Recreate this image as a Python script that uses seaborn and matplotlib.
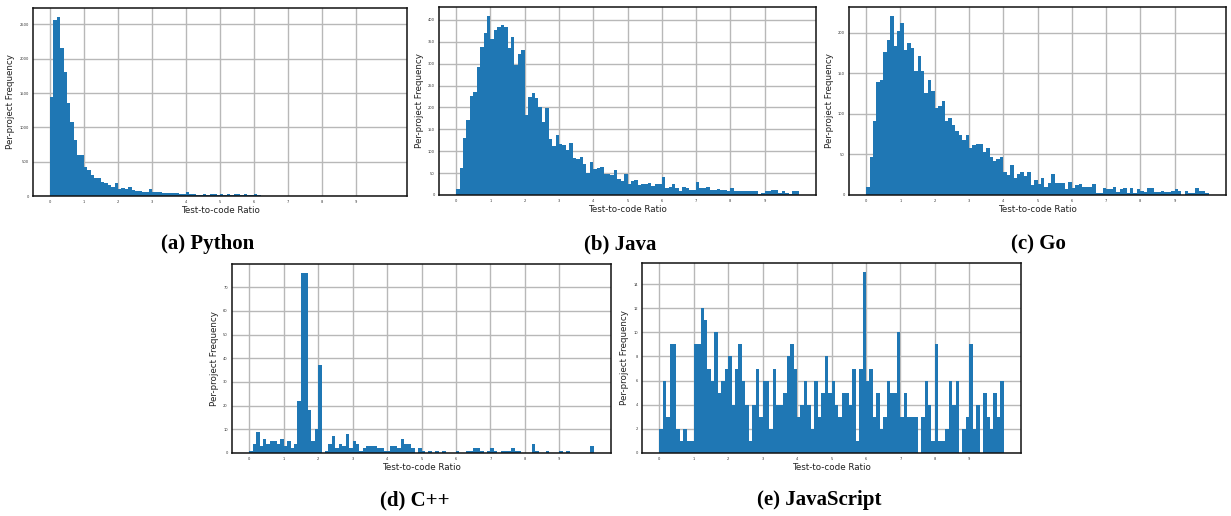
import numpy as np
import pandas as pd
import matplotlib
matplotlib.use("Agg")
import matplotlib.pyplot as plt
import seaborn as sns

# Histogram bins: 100 bins of width 0.1 over the test-to-code ratio range
bin_edges = np.linspace(0, 10, 101)
bin_centers = (bin_edges[:-1] + bin_edges[1:]) / 2

# Per-bin project counts
python_counts = [
    1440, 2570, 2610, 2160, 1810, 1355, 1075, 815, 595, 595,
    420, 375, 300, 258, 258, 210, 185, 165, 125, 185,
    100, 110, 97, 125, 90, 80, 80, 65, 55, 97,
    55, 55, 55, 42, 50, 40, 40, 38, 32, 30,
    55, 28, 28, 18, 15, 22, 15, 22, 22, 15,
    22, 15, 22, 15, 22, 22, 15, 22, 10, 10,
    22, 18, 6, 5, 5, 4, 4, 3, 3, 3,
    3, 2, 2, 2, 2, 2, 2, 1, 1, 1,
    1, 1, 1, 1, 1, 1, 1, 1, 1, 1,
    1, 1, 1, 1, 1, 1, 1, 1, 1, 1,
]
java_counts = [
    14, 62, 131, 172, 227, 236, 293, 338, 370, 409,
    357, 377, 384, 389, 384, 336, 361, 297, 322, 332,
    183, 224, 233, 222, 202, 167, 199, 128, 113, 138,
    117, 115, 103, 119, 85, 83, 87, 71, 51, 76,
    60, 62, 65, 49, 49, 46, 56, 37, 33, 49,
    26, 33, 35, 22, 24, 24, 28, 21, 24, 24,
    40, 17, 19, 24, 17, 10, 19, 17, 12, 12,
    30, 17, 17, 19, 12, 12, 14, 12, 12, 8,
    17, 8, 10, 10, 8, 8, 8, 10, 3, 5,
    10, 8, 12, 12, 5, 10, 5, 3, 8, 10,
]
go_counts = [
    10, 47, 91, 140, 142, 176, 191, 221, 184, 202,
    212, 179, 188, 181, 153, 172, 153, 126, 142, 128,
    107, 110, 116, 91, 95, 87, 79, 74, 68, 74,
    58, 62, 63, 63, 53, 58, 47, 42, 44, 47,
    29, 25, 37, 21, 26, 29, 23, 29, 12, 19,
    14, 21, 10, 15, 26, 15, 15, 15, 7, 16,
    9, 12, 13, 10, 10, 10, 13, 3, 3, 9,
    7, 8, 10, 4, 7, 9, 2, 9, 3, 7,
    5, 4, 9, 9, 4, 4, 5, 4, 4, 5,
    8, 5, 0, 5, 3, 3, 9, 5, 5, 3,
]
cpp_counts = [
    1, 4, 9, 3, 6, 4, 5, 5, 4, 6,
    3, 5, 2, 4, 22, 76, 76, 18, 5, 10,
    37, 0, 1, 4, 7, 2, 4, 3, 8, 2,
    5, 4, 1, 2, 3, 3, 3, 2, 2, 1,
    1, 3, 3, 2, 6, 4, 4, 2, 0, 2,
    1, 0, 1, 0, 1, 0, 1, 0, 0, 0,
    1, 0, 0, 1, 1, 2, 2, 1, 0, 1,
    2, 1, 0, 1, 1, 1, 2, 1, 1, 0,
    0, 0, 4, 1, 0, 0, 1, 0, 0, 0,
    1, 0, 1, 0, 0, 0, 0, 0, 0, 3,
]
js_counts = [
    2, 6, 3, 9, 9, 2, 1, 2, 1, 1,
    9, 9, 12, 11, 7, 6, 10, 5, 6, 7,
    8, 4, 7, 9, 6, 4, 1, 4, 7, 3,
    6, 6, 2, 7, 4, 4, 5, 8, 9, 7,
    3, 4, 6, 4, 2, 6, 3, 5, 8, 5,
    6, 4, 3, 5, 5, 4, 7, 1, 7, 15,
    6, 7, 3, 5, 2, 3, 6, 5, 5, 10,
    3, 5, 3, 3, 3, 0, 3, 6, 4, 1,
    9, 1, 1, 2, 6, 4, 6, 0, 2, 3,
    9, 2, 4, 0, 5, 3, 2, 5, 3, 6,
]

panels = [
    # counts, caption, y tick step, axes box in pixels (left, right, top, bottom), caption centre
    (python_counts, "(a) Python", 500, (33, 407, 8, 196), (208, 244)),
    (java_counts, "(b) Java", 50, (439, 816, 7, 195), (620, 244)),
    (go_counts, "(c) Go", 50, (849, 1226, 7, 195), (1038, 244)),
    (cpp_counts, "(d) C++", 10, (232, 611, 264, 453), (415, 500)),
    (js_counts, "(e) JavaScript", 2, (642, 1021, 263, 453), (819, 500)),
]

sns.set_style("whitegrid", {"axes.edgecolor": "black", "grid.color": "#b8b8b8"})
plt.rcParams["font.family"] = ["DejaVu Sans"]

W, H = 1231, 516
fig = plt.figure(figsize=(W / 100, H / 100), dpi=100)


def plot_panel(counts, caption, ystep, box, cap_pos):
    left, right, top, bottom = box
    ax = fig.add_axes([left / W, 1 - bottom / H, (right - left) / W, (bottom - top) / H])
    df = pd.DataFrame({"ratio": bin_centers, "count": counts})
    sns.histplot(data=df, x="ratio", weights="count", binwidth=0.1, binrange=(0, 10),
                 ax=ax, color="#1f77b4", alpha=1, edgecolor="none", linewidth=0)
    ax.set_xlim(-0.5, 10.5)
    ax.set_ylim(0, max(counts) * 1.05)
    ax.set_xticks(range(10))
    ax.yaxis.set_major_locator(matplotlib.ticker.MultipleLocator(ystep))
    ax.tick_params(labelsize=2.6, length=1.5, width=0.5, pad=1.5, colors="#333333")
    ax.grid(True, color="#b8b8b8", linewidth=1.0)
    ax.set_axisbelow(True)
    for spine in ax.spines.values():
        spine.set_linewidth(1.1)
        spine.set_color("#111111")
    ax.set_xlabel("Test-to-code Ratio", fontsize=6.3, labelpad=1.5, color="#222222")
    ax.set_ylabel("Per-project Frequency", fontsize=6.3, labelpad=3, color="#222222")
    fig.text(cap_pos[0] / W, 1 - cap_pos[1] / H, caption, ha="center", va="center",
             fontsize=15, fontweight="bold", color="black",
             family=["Liberation Serif", "DejaVu Serif"])
    return ax


for counts, caption, ystep, box, cap_pos in panels:
    plot_panel(counts, caption, ystep, box, cap_pos)

fig.savefig("out.png", dpi=100)
print("Saved out.png")
